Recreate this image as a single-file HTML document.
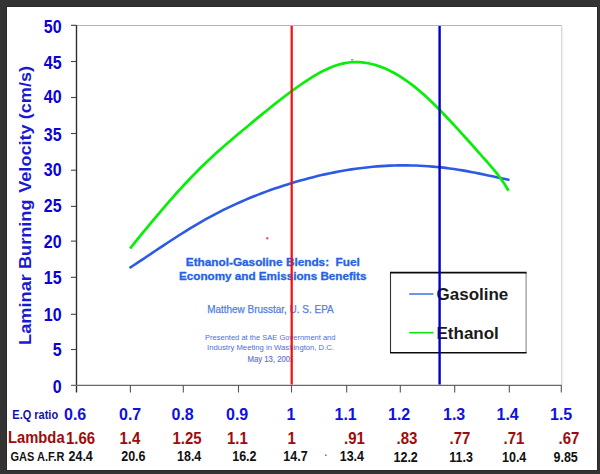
<!DOCTYPE html>
<html><head><meta charset="utf-8">
<style>
html,body{margin:0;padding:0;}
body{width:600px;height:474px;background:#333;position:relative;overflow:hidden;font-family:"Liberation Sans",sans-serif;}
#panel{position:absolute;left:7px;top:7px;width:590px;height:463px;background:#fff;box-shadow:0 0 0 1px #2a2a2a;}
svg{position:absolute;left:0;top:0;}
</style></head>
<body>
<div id="panel"></div>
<svg width="600" height="474" viewBox="0 0 600 474" font-family="Liberation Sans, sans-serif">
<text x="185.8" y="265.9" font-size="10.5" fill="#2563e6" font-weight="bold" textLength="174" lengthAdjust="spacingAndGlyphs" stroke="#2563e6" stroke-width="0.3">Ethanol-Gasoline Blends:&#160; Fuel</text>
<text x="179" y="280.4" font-size="10.5" fill="#2563e6" font-weight="bold" textLength="187.5" lengthAdjust="spacingAndGlyphs" stroke="#2563e6" stroke-width="0.3">Economy and Emissions Benefits</text>
<text x="207.2" y="313" font-size="10.3" fill="#5580e0" textLength="126.5" lengthAdjust="spacingAndGlyphs" stroke="#5580e0" stroke-width="0.25">Matthew Brusstar, U. S. EPA</text>
<text x="205" y="339.6" font-size="8.1" fill="#4a70dc" textLength="130.5" lengthAdjust="spacingAndGlyphs">Presented at the SAE Government and</text>
<text x="207" y="349.8" font-size="8.1" fill="#4a70dc" textLength="127" lengthAdjust="spacingAndGlyphs">Industry Meeting in Washington, D.C.</text>
<clipPath id="cl"><rect x="0" y="0" width="293" height="474"/></clipPath>
<text x="247.5" y="361.8" font-size="8.5" fill="#5a74d4" textLength="47" lengthAdjust="spacingAndGlyphs" clip-path="url(#cl)" stroke="#5a74d4" stroke-width="0.15">May 13, 2002</text>
<rect x="266.3" y="237.3" width="2" height="2" fill="#f03030"/>
<line x1="71" y1="25.5" x2="561.7" y2="25.5" stroke="#b4b4b4" stroke-width="1.2"/>
<line x1="561.7" y1="25.3" x2="561.7" y2="385.2" stroke="#d8d8d8" stroke-width="1.3"/>
<line x1="76.5" y1="25.3" x2="76.5" y2="392.5" stroke="#2e2e2e" stroke-width="1.4"/>
<line x1="71" y1="385.4" x2="561.7" y2="385.4" stroke="#6a6a6a" stroke-width="1.2"/>
<g stroke="#444" stroke-width="1.1"><line x1="71" y1="349.5" x2="76.4" y2="349.5"/><line x1="71" y1="314.3" x2="76.4" y2="314.3"/><line x1="71" y1="277.3" x2="76.4" y2="277.3"/><line x1="71" y1="241.1" x2="76.4" y2="241.1"/><line x1="71" y1="206.4" x2="76.4" y2="206.4"/><line x1="71" y1="170.2" x2="76.4" y2="170.2"/><line x1="71" y1="133.5" x2="76.4" y2="133.5"/><line x1="71" y1="97.5" x2="76.4" y2="97.5"/><line x1="71" y1="61.5" x2="76.4" y2="61.5"/><line x1="71" y1="25.3" x2="76.4" y2="25.3"/></g>
<g stroke="#555" stroke-width="1.1"><line x1="130.4" y1="385.2" x2="130.4" y2="392.5"/><line x1="183.3" y1="385.2" x2="183.3" y2="392.5"/><line x1="238.5" y1="385.2" x2="238.5" y2="392.5"/><line x1="291.5" y1="385.2" x2="291.5" y2="392.5"/><line x1="346.7" y1="385.2" x2="346.7" y2="392.5"/><line x1="400.3" y1="385.2" x2="400.3" y2="392.5"/><line x1="454.7" y1="385.2" x2="454.7" y2="392.5"/><line x1="509.3" y1="385.2" x2="509.3" y2="392.5"/><line x1="561.3" y1="385.2" x2="561.3" y2="392.5"/></g>
<path d="M129.50,268.01 L133.77,265.22 L138.04,262.41 L142.31,259.58 L146.58,256.73 L150.85,253.88 L155.12,251.03 L159.39,248.18 L163.66,245.35 L167.93,242.53 L172.20,239.73 L176.47,236.97 L180.74,234.23 L185.01,231.54 L189.28,228.90 L193.54,226.30 L197.81,223.77 L202.08,221.30 L206.35,218.90 L210.62,216.56 L214.89,214.29 L219.16,212.08 L223.43,209.94 L227.70,207.85 L231.97,205.83 L236.24,203.86 L240.51,201.95 L244.78,200.10 L249.05,198.30 L253.32,196.56 L257.59,194.87 L261.86,193.22 L266.13,191.63 L270.40,190.09 L274.67,188.60 L278.94,187.15 L283.21,185.75 L287.48,184.39 L291.75,183.08 L296.02,181.81 L300.29,180.58 L304.56,179.39 L308.83,178.25 L313.10,177.15 L317.37,176.10 L321.63,175.10 L325.90,174.14 L330.17,173.22 L334.44,172.36 L338.71,171.54 L342.98,170.77 L347.25,170.05 L351.52,169.38 L355.79,168.76 L360.06,168.19 L364.33,167.67 L368.60,167.20 L372.87,166.78 L377.14,166.42 L381.41,166.11 L385.68,165.86 L389.95,165.65 L394.22,165.51 L398.49,165.41 L402.76,165.37 L407.03,165.38 L411.30,165.45 L415.57,165.57 L419.84,165.74 L424.11,165.97 L428.38,166.25 L432.65,166.58 L436.92,166.96 L441.19,167.40 L445.46,167.89 L449.72,168.43 L453.99,169.03 L458.26,169.68 L462.53,170.38 L466.80,171.13 L471.07,171.92 L475.34,172.75 L479.61,173.62 L483.88,174.50 L488.15,175.41 L492.42,176.33 L496.69,177.25 L500.96,178.18 L505.23,179.10 L509.50,180.01" fill="none" stroke="#2c5ae4" stroke-width="2.6" stroke-linejoin="round"/>
<path d="M130.10,248.50 L134.35,243.21 L138.61,237.95 L142.86,232.72 L147.11,227.53 L151.36,222.39 L155.62,217.29 L159.87,212.26 L164.12,207.28 L168.38,202.37 L172.63,197.52 L176.88,192.76 L181.13,188.08 L185.39,183.48 L189.64,178.98 L193.89,174.57 L198.14,170.27 L202.40,166.07 L206.65,161.98 L210.90,157.99 L215.16,154.08 L219.41,150.26 L223.66,146.50 L227.91,142.80 L232.17,139.16 L236.42,135.56 L240.67,131.99 L244.93,128.45 L249.18,124.92 L253.43,121.41 L257.68,117.90 L261.94,114.41 L266.19,110.95 L270.44,107.52 L274.70,104.13 L278.95,100.79 L283.20,97.50 L287.45,94.27 L291.71,91.11 L295.96,88.02 L300.21,85.02 L304.47,82.11 L308.72,79.31 L312.97,76.64 L317.22,74.13 L321.48,71.80 L325.73,69.66 L329.98,67.75 L334.23,66.08 L338.49,64.67 L342.74,63.55 L346.99,62.74 L351.25,62.25 L355.50,62.06 L359.75,62.17 L364.00,62.57 L368.26,63.25 L372.51,64.20 L376.76,65.42 L381.02,66.90 L385.27,68.62 L389.52,70.59 L393.77,72.79 L398.03,75.23 L402.28,77.89 L406.53,80.77 L410.79,83.86 L415.04,87.16 L419.29,90.67 L423.54,94.36 L427.80,98.24 L432.05,102.29 L436.30,106.47 L440.56,110.79 L444.81,115.20 L449.06,119.71 L453.31,124.29 L457.57,128.92 L461.82,133.59 L466.07,138.28 L470.32,143.00 L474.58,147.75 L478.83,152.54 L483.08,157.36 L487.34,162.22 L491.59,167.13 L495.84,172.19 L500.09,177.65 L504.35,183.77 L508.60,190.80" fill="none" stroke="#08ee08" stroke-width="2.7" stroke-linejoin="round"/>
<rect x="351" y="59.2" width="2.5" height="1.3" fill="#888"/>
<rect x="390.5" y="272.6" width="135.6" height="80.2" fill="#fff"/>
<line x1="390.5" y1="272.6" x2="390.5" y2="352.8" stroke="#333" stroke-width="1.1"/>
<line x1="526.1" y1="272.6" x2="526.1" y2="352.8" stroke="#888" stroke-width="1.1"/>
<line x1="390" y1="272.6" x2="526.6" y2="272.6" stroke="#0a0a0a" stroke-width="1.6"/>
<line x1="390" y1="352.8" x2="526.6" y2="352.8" stroke="#0a0a0a" stroke-width="1.6"/>
<line x1="409.2" y1="294" x2="433.5" y2="294" stroke="#4a78e8" stroke-width="1.6"/>
<line x1="409.2" y1="332.7" x2="433.5" y2="332.7" stroke="#10e010" stroke-width="1.6"/>
<text x="436.5" y="299.6" font-size="17" fill="#1a1a1a" font-weight="bold">Gasoline</text>
<text x="436.5" y="338.7" font-size="17" fill="#1a1a1a" font-weight="bold">Ethanol</text>
<line x1="291.7" y1="26" x2="291.7" y2="384.5" stroke="#ff0a0a" stroke-width="2.2"/>
<line x1="439.6" y1="26" x2="439.6" y2="384.5" stroke="#0000c8" stroke-width="2.4"/>
<text transform="translate(61.6,392.5) scale(1.0,1.11)" font-size="16" fill="#0a00d8" font-weight="bold" text-anchor="end">0</text>
<text transform="translate(61.6,356.4) scale(1.0,1.11)" font-size="16" fill="#0a00d8" font-weight="bold" text-anchor="end">5</text>
<text transform="translate(61.6,320.6) scale(1.0,1.11)" font-size="16" fill="#0a00d8" font-weight="bold" text-anchor="end">10</text>
<text transform="translate(61.6,283.9) scale(1.0,1.11)" font-size="16" fill="#0a00d8" font-weight="bold" text-anchor="end">15</text>
<text transform="translate(61.6,247.5) scale(1.0,1.11)" font-size="16" fill="#0a00d8" font-weight="bold" text-anchor="end">20</text>
<text transform="translate(61.6,212.2) scale(1.0,1.11)" font-size="16" fill="#0a00d8" font-weight="bold" text-anchor="end">25</text>
<text transform="translate(61.6,176.2) scale(1.0,1.11)" font-size="16" fill="#0a00d8" font-weight="bold" text-anchor="end">30</text>
<text transform="translate(61.6,141.3) scale(1.0,1.11)" font-size="16" fill="#0a00d8" font-weight="bold" text-anchor="end">35</text>
<text transform="translate(61.6,103.4) scale(1.0,1.11)" font-size="16" fill="#0a00d8" font-weight="bold" text-anchor="end">40</text>
<text transform="translate(61.6,68.6) scale(1.0,1.11)" font-size="16" fill="#0a00d8" font-weight="bold" text-anchor="end">45</text>
<text transform="translate(61.6,32.5) scale(1.0,1.11)" font-size="16" fill="#0a00d8" font-weight="bold" text-anchor="end">50</text>
<text transform="translate(30.9,344.9) rotate(-90)" fill="#1a1ad0" font-weight="bold" font-size="16.5" textLength="145.5" lengthAdjust="spacingAndGlyphs">Laminar Burning</text>
<text transform="translate(30.9,192.8) rotate(-90)" fill="#1a1ad0" font-weight="bold" font-size="16.5" textLength="126.9" lengthAdjust="spacingAndGlyphs">Velocity (cm/s)</text>
<text transform="translate(12.3,418.8) scale(1.0,1.08)" font-size="11" fill="#1212a0" font-weight="bold">E.Q ratio</text>
<text x="64" y="419.6" font-size="16" fill="#1010e0" font-weight="bold">0.6</text>
<text x="119" y="419.6" font-size="16" fill="#1010e0" font-weight="bold">0.7</text>
<text x="171.5" y="419.6" font-size="16" fill="#1010e0" font-weight="bold">0.8</text>
<text x="226" y="419.6" font-size="16" fill="#1010e0" font-weight="bold">0.9</text>
<text x="286.5" y="419.6" font-size="16" fill="#1010e0" font-weight="bold">1</text>
<text x="334.5" y="419.6" font-size="16" fill="#1010e0" font-weight="bold">1.1</text>
<text x="388" y="419.6" font-size="16" fill="#1010e0" font-weight="bold">1.2</text>
<text x="443" y="419.6" font-size="16" fill="#1010e0" font-weight="bold">1.3</text>
<text x="496.5" y="419.6" font-size="16" fill="#1010e0" font-weight="bold">1.4</text>
<text x="550" y="419.6" font-size="16" fill="#1010e0" font-weight="bold">1.5</text>
<text transform="translate(8,443.4) scale(1.0,1.1)" font-size="15" fill="#a00a0a" font-weight="bold" textLength="56.6" lengthAdjust="spacingAndGlyphs">Lambda</text>
<text transform="translate(66,443.6) scale(1.0,1.1)" font-size="15" fill="#a00a0a" font-weight="bold">1.66</text>
<text transform="translate(119.5,443.6) scale(1.0,1.1)" font-size="15" fill="#a00a0a" font-weight="bold">1.4</text>
<text transform="translate(172.5,443.6) scale(1.0,1.1)" font-size="15" fill="#a00a0a" font-weight="bold">1.25</text>
<text transform="translate(227,443.6) scale(1.0,1.1)" font-size="15" fill="#a00a0a" font-weight="bold">1.1</text>
<text transform="translate(287.5,443.6) scale(1.0,1.1)" font-size="15" fill="#a00a0a" font-weight="bold">1</text>
<text transform="translate(344,443.6) scale(1.0,1.1)" font-size="15" fill="#a00a0a" font-weight="bold">.91</text>
<text transform="translate(396.5,443.6) scale(1.0,1.1)" font-size="15" fill="#a00a0a" font-weight="bold">.83</text>
<text transform="translate(449.5,443.6) scale(1.0,1.1)" font-size="15" fill="#a00a0a" font-weight="bold">.77</text>
<text transform="translate(503.5,443.6) scale(1.0,1.1)" font-size="15" fill="#a00a0a" font-weight="bold">.71</text>
<text transform="translate(558.5,443.6) scale(1.0,1.1)" font-size="15" fill="#a00a0a" font-weight="bold">.67</text>
<text transform="translate(10.5,460.8) scale(1.0,1.08)" font-size="11" fill="#111" font-weight="bold">GAS A.F.R</text>
<text transform="translate(68.5,460.8) scale(1.0,1.14)" font-size="12.5" fill="#111" font-weight="bold">24.4</text>
<text transform="translate(121.2,460.6) scale(1.0,1.14)" font-size="12.5" fill="#111" font-weight="bold">20.6</text>
<text transform="translate(177,460.6) scale(1.0,1.14)" font-size="12.5" fill="#111" font-weight="bold">18.4</text>
<text transform="translate(232.2,460.6) scale(1.0,1.14)" font-size="12.5" fill="#111" font-weight="bold">16.2</text>
<text transform="translate(283.3,460.6) scale(1.0,1.14)" font-size="12.5" fill="#111" font-weight="bold">14.7</text>
<text transform="translate(339.7,460.6) scale(1.0,1.14)" font-size="12.5" fill="#111" font-weight="bold">13.4</text>
<text transform="translate(393.5,462) scale(1.0,1.14)" font-size="12.5" fill="#111" font-weight="bold">12.2</text>
<text transform="translate(449.3,461.9) scale(1.0,1.14)" font-size="12.5" fill="#111" font-weight="bold">11.3</text>
<text transform="translate(502,461.9) scale(1.0,1.14)" font-size="12.5" fill="#111" font-weight="bold">10.4</text>
<text transform="translate(553.5,461.7) scale(1.0,1.14)" font-size="12.5" fill="#111" font-weight="bold">9.85</text>
<rect x="325" y="454.6" width="1.6" height="1.2" fill="#3050e0"/>
</svg>
</body></html>
